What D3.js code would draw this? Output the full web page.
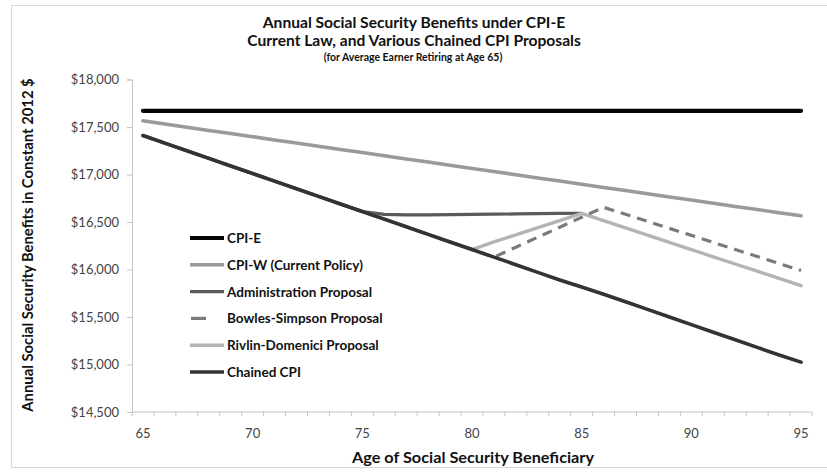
<!DOCTYPE html>
<html>
<head>
<meta charset="utf-8">
<script src="https://cdn.jsdelivr.net/npm/d3@7"></script>
<style>
  html, body { margin: 0; padding: 0; background: #fff; }
  svg { display: block; }
  text { font-family: Lato, "Open Sans", sans-serif; }
</style>
</head>
<body>
<svg id="chart" width="827" height="474"></svg>
<script>
const ages = d3.range(65, 96);
const yTicks = [14500, 15000, 15500, 16000, 16500, 17000, 17500, 18000];
const xTickLabels = [65, 70, 75, 80, 85, 90, 95];

const cpiE = [17670,17670,17670,17670,17670,17670,17670,17670,17670,17670,17670,17670,17670,17670,17670,17670,17670,17670,17670,17670,17670,17670,17670,17670,17670,17670,17670,17670,17670,17670,17670];
const cpiW = [17565,17532,17498,17464,17431,17398,17364,17331,17298,17264,17231,17198,17164,17131,17098,17064,17031,16998,16964,16931,16898,16864,16831,16798,16764,16731,16698,16664,16631,16598,16565];
const chained = [17410,17330,17250,17170,17090,17010,16930,16850,16770,16690,16610,16530,16450,16370,16290,16210,16130,16050,15970,15890,15815,15740,15660,15580,15500,15420,15340,15260,15180,15100,15025];
const admin = [17410,17330,17250,17170,17090,17010,16930,16850,16770,16690,16610,16580,16575,16575,16578,16580,16582,16585,16588,16590,16592,null,null,null,null,null,null,null,null,null,null];
const bowles = [17410,17330,17250,17170,17090,17010,16930,16850,16770,16690,16610,16530,16450,16370,16290,16210,16130,16235,16340,16445,16550,16655,16581,16507,16433,16359,16285,16211,16137,16063,15990];
const rivlin = [17410,17330,17250,17170,17090,17010,16930,16850,16770,16690,16610,16530,16450,16370,16290,16210,16290,16365,16440,16515,16590,16514,16438,16362,16286,16210,16134,16058,15982,15906,15830];

const seriesNames = ["CPI-E", "CPI-W (Current Policy)", "Administration Proposal", "Bowles-Simpson Proposal", "Rivlin-Domenici Proposal", "Chained CPI"];
const seriesValues = [cpiE, cpiW, admin, bowles, rivlin, chained];
const seriesColors = ["#050505", "#9a9a9a", "#5a5a5a", "#7a7a7a", "#b4b4b4", "#333333"];
const seriesWidths = [4.2, 3.6, 3.2, 3.2, 3.4, 3.6];
const seriesDash = [null, null, null, "10,7", null, null];

const svg = d3.select("#chart");

// outer frame
svg.append("rect").attr("x", 11.5).attr("y", 5.5).attr("width", 830).attr("height", 462)
  .attr("fill", "none").attr("stroke", "#d8d8d8").attr("stroke-width", 1);

const x = d3.scaleBand().domain(ages).range([132, 812]);
const y = d3.scaleLinear().domain([14500, 18000]).range([412, 79.5]);
const cx = a => x(a) + x.bandwidth() / 2;

// Y axis
const yAxis = d3.axisLeft(y).tickValues(yTicks).tickSize(5).tickPadding(8)
  .tickFormat(d => "$" + d3.format(",")(d));
const gy = svg.append("g").attr("transform", "translate(132,0)").call(yAxis);
gy.select(".domain").attr("stroke", "#c4c4c4");
gy.selectAll(".tick line").attr("stroke", "#c4c4c4");
gy.selectAll(".tick text").attr("fill", "#444").style("font-size", "13px").style("font-family", "Lato, sans-serif");

// X axis
const gx = svg.append("g").attr("transform", "translate(0,412)");
gx.append("line").attr("x1", 132).attr("x2", 812).attr("stroke", "#c4c4c4");
const bounds = ages.map(a => x(a)).concat([x(95) + x.bandwidth()]);
gx.selectAll("line.mt").data(bounds).join("line").attr("class", "mt")
  .attr("x1", d => d).attr("x2", d => d).attr("y1", 0).attr("y2", 4).attr("stroke", "#c4c4c4");
gx.selectAll("text.xl").data(xTickLabels).join("text").attr("class", "xl")
  .attr("x", d => cx(d)).attr("y", 26).attr("text-anchor", "middle")
  .attr("fill", "#444").style("font-size", "13px").text(d => d);

// lines
const line = d3.line().defined(d => d.v != null).x(d => cx(d.a)).y(d => y(d.v));
const drawOrder = [0, 1, 2, 4, 3, 5];
drawOrder.forEach(i => {
  const data = ages.map((a, k) => ({ a: a, v: seriesValues[i][k] }));
  svg.append("path").datum(data).attr("d", line)
    .attr("fill", "none").attr("stroke", seriesColors[i])
    .attr("stroke-width", seriesWidths[i])
    .attr("stroke-dasharray", seriesDash[i])
    .attr("stroke-linejoin", "round").attr("stroke-linecap", i === 3 ? "butt" : "round");
});

// legend
const lg = svg.append("g");
seriesNames.forEach((name, i) => {
  const ly = 238 + i * 26.8;
  if (seriesDash[i]) {
    lg.append("line").attr("x1", 191).attr("x2", 206).attr("y1", ly).attr("y2", ly)
      .attr("stroke", seriesColors[i]).attr("stroke-width", seriesWidths[i]);
  } else {
    lg.append("line").attr("x1", 190).attr("x2", 224).attr("y1", ly).attr("y2", ly)
      .attr("stroke", seriesColors[i]).attr("stroke-width", seriesWidths[i]);
  }
  lg.append("text").attr("x", 227).attr("y", ly + 5).attr("fill", "#111")
    .style("font-size", "13.5px").style("font-weight", "700").text(name);
});

// titles
svg.append("text").attr("x", 414).attr("y", 28).attr("text-anchor", "middle")
  .style("font-size", "15.6px").style("font-weight", "700").attr("fill", "#111")
  .text("Annual Social Security Benefits under CPI-E");
svg.append("text").attr("x", 414).attr("y", 46).attr("text-anchor", "middle")
  .style("font-size", "15.6px").style("font-weight", "700").attr("fill", "#111")
  .text("Current Law, and Various Chained CPI Proposals");
svg.append("text").attr("x", 413).attr("y", 61).attr("text-anchor", "middle")
  .style("font-size", "10.5px").style("font-weight", "700").attr("fill", "#111")
  .text("(for Average Earner Retiring at Age 65)");

svg.append("text").attr("x", 473).attr("y", 463).attr("text-anchor", "middle")
  .style("font-size", "15px").style("font-weight", "700").attr("fill", "#111")
  .attr("textLength", 242).attr("lengthAdjust", "spacingAndGlyphs")
  .text("Age of Social Security Beneficiary");

svg.append("text").attr("transform", "translate(33,245) rotate(-90)").attr("text-anchor", "middle")
  .style("font-size", "14.8px").style("font-weight", "700").attr("fill", "#111")
  .text("Annual Social Security Benefits in Constant 2012 $");
</script>
</body>
</html>
